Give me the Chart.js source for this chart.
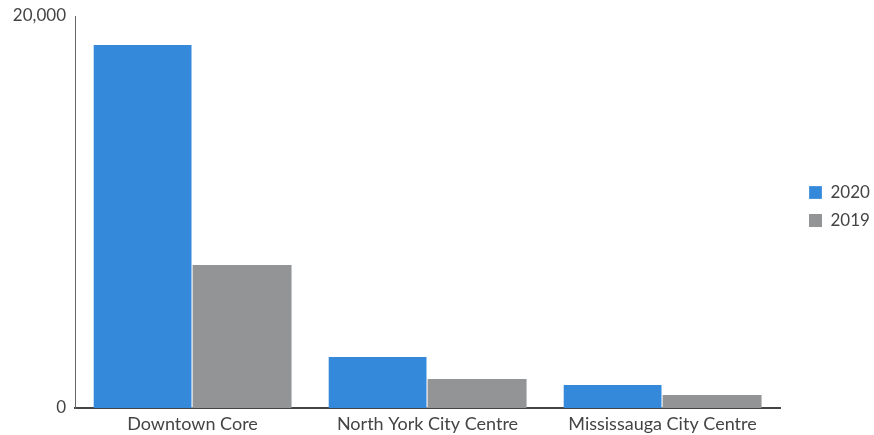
<!DOCTYPE html>
<html>
<head>
<meta charset="utf-8">
<script src="https://cdn.jsdelivr.net/npm/chart.js@4"></script>
<style>
  html, body { margin: 0; padding: 0; background: #fff; }
  .chart-wrapper { position: relative; width: 874px; height: 435px; }
</style>
</head>
<body>
<div class="chart-wrapper"><canvas id="chart"></canvas></div>
<script>
const categories = ['Downtown Core', 'North York City Centre', 'Mississauga City Centre'];
const values2020 = [18520, 2600, 1170];
const values2019 = [7300, 1480, 660];
const yTicks = [0, 20000];

// keep the legend column at the right edge, chart area ends at x=780
const legendBox = {
  id: 'legendBox',
  beforeLayout(chart) {
    const lg = chart.legend;
    if (lg && !lg._patched) {
      const fit = lg.fit.bind(lg);
      lg.fit = function () { fit(); this.width = 94; };
      lg._patched = true;
    }
  },
  afterLayout(chart) {
    const lg = chart.legend;
    lg.left = 798; lg.right = 874;
    lg.top = 1; lg.bottom = 412;
  }
};

const ctx = document.getElementById('chart').getContext('2d');
new Chart(ctx, {
  type: 'bar',
  data: {
    labels: categories,
    datasets: [
      {
        label: '2020',
        data: values2020,
        backgroundColor: '#3589db',
        borderColor: '#ffffff',
        borderWidth: { top: 0, right: 1, bottom: 0, left: 0 },
        borderSkipped: false
      },
      {
        label: '2019',
        data: values2019,
        backgroundColor: '#939495',
        borderWidth: 0
      }
    ]
  },
  options: {
    responsive: true,
    maintainAspectRatio: false,
    animation: false,
    layout: { padding: { top: 16, right: 0, bottom: 0, left: 0 } },
    datasets: { bar: { categoryPercentage: 0.843, barPercentage: 1 } },
    scales: {
      x: {
        afterFit: axis => { axis.height = 27; },
        grid: { display: false, drawTicks: false },
        border: { display: true, color: '#444', width: 2 },
        ticks: { color: '#444', font: { family: 'Lato', size: 18 }, padding: 5 }
      },
      y: {
        min: 0,
        max: 20000,
        afterFit: axis => { axis.width = 75; axis.paddingTop = 0; axis.paddingBottom = 0; },
        afterBuildTicks: axis => { axis.ticks = yTicks.map(v => ({ value: v })); },
        grid: { display: false, drawTicks: false },
        border: { display: true, color: '#666', width: 1 },
        ticks: {
          color: '#444',
          font: { family: 'Lato', size: 17 },
          padding: 9,
          callback: v => v.toLocaleString('en-US')
        }
      }
    },
    plugins: {
      legend: {
        position: 'right',
        labels: {
          color: '#444',
          font: { family: 'Lato', size: 17 },
          boxWidth: 13,
          boxHeight: 13,
          padding: 11
        }
      },
      tooltip: { enabled: false }
    }
  },
  plugins: [legendBox]
});
</script>
</body>
</html>
